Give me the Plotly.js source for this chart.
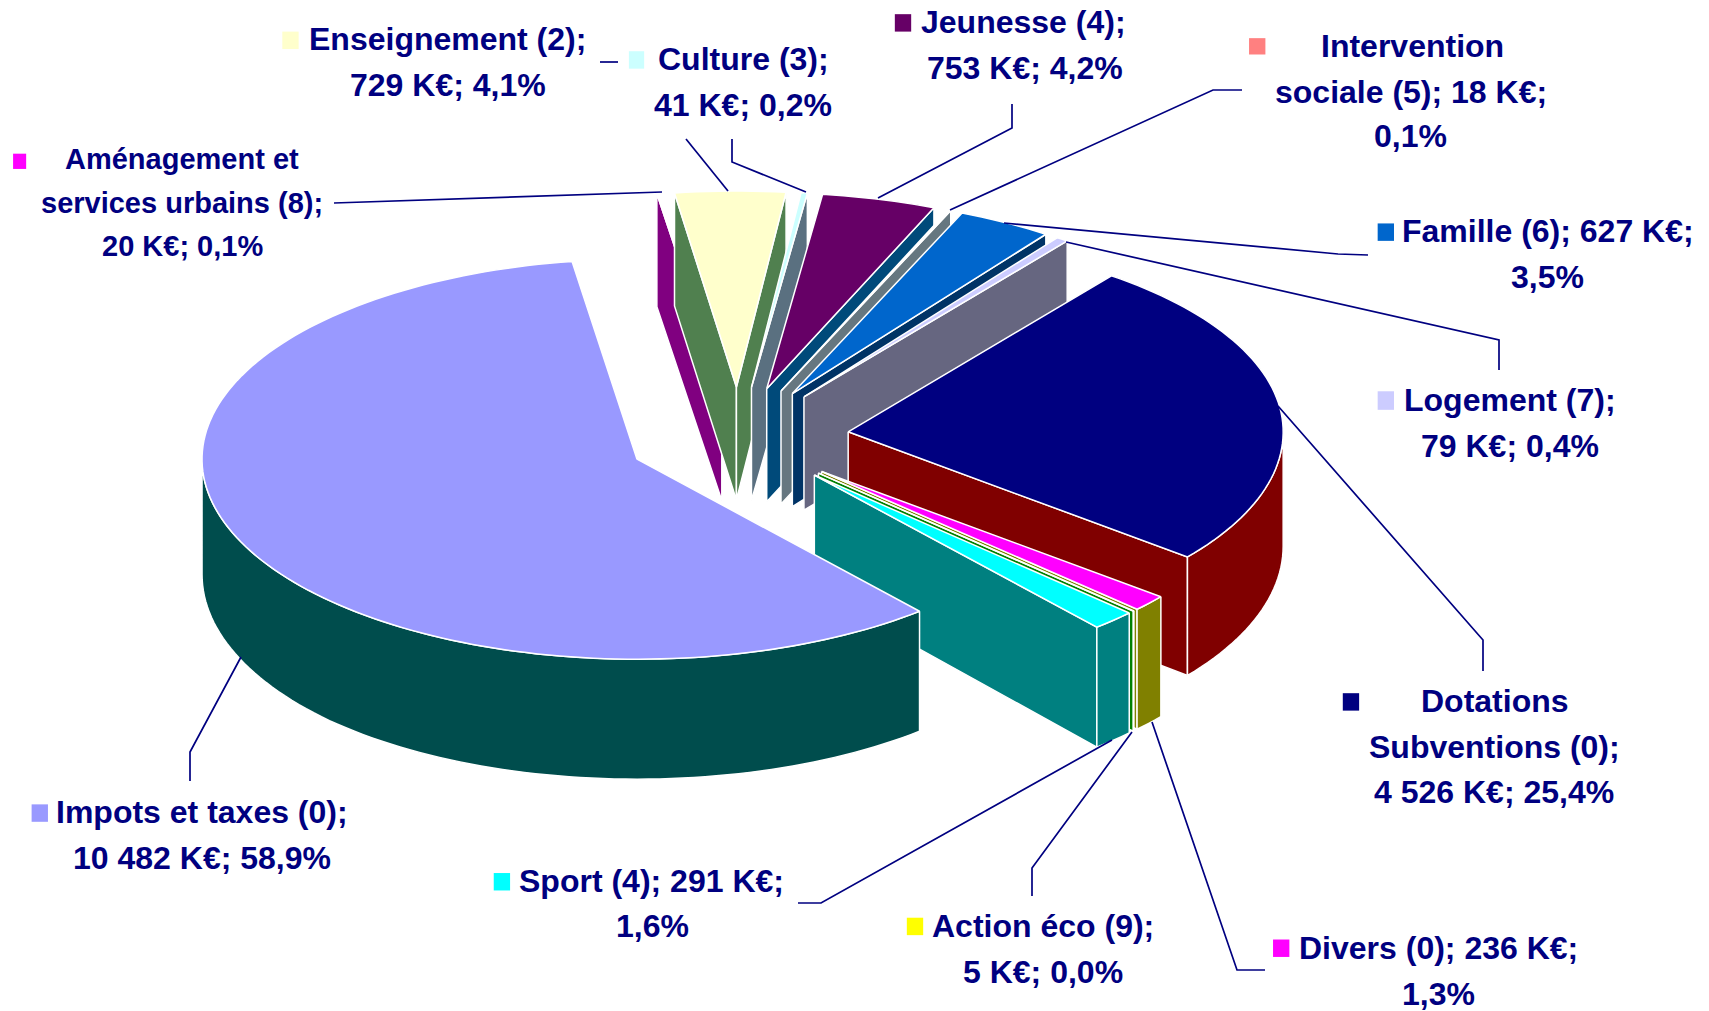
<!DOCTYPE html>
<html><head><meta charset="utf-8">
<script src="https://cdn.plot.ly/plotly-3.0.1.min.js"></script>
<style>html,body{margin:0;padding:0;background:#fff;overflow:hidden}</style>
</head><body><div id="chart" style="width:1709px;height:1011px"></div>
<script>
// Data, clockwise from the start of "Impots et taxes"
const categories = ["Impots et taxes","Aménagement et services urbains","Enseignement","Culture","Jeunesse","Intervention sociale","Famille","Logement","Dotations Subventions","Divers","Action éco","Sport"];
const valuesKE   = [10482,20,729,41,753,18,627,79,4526,236,5,291];
const topColors  = ["#9999FF","#FFFFFF","#FFFFCC","#CCFFFF","#660066","#FFFFFF","#0066CC","#CCCCFF","#000080","#FF00FF","#FFFF00","#00FFFF"];
const sideColors = ["#004D4D","#800080","#50804F","#5A7080","#004A7A","#667780","#003366","#666680","#800000","#808000","#008000","#008080"];
const drawOrder  = [1,2,3,4,5,6,7,8,9,10,11,0];

// Pie projection
const startDeg=139.5, cx=738, cy=438, rx=435, ryFront=200, ryBack=196, explodeX=111, explodeY=51;
const depth = y => 113 + 7*Math.min(1,Math.max(0,(y-390)/210));

// Label text lines (one row per line)
const labelLines = ["Enseignement (2);","729 K€; 4,1%","Culture (3);","41 K€; 0,2%","Jeunesse (4);","753 K€; 4,2%","Intervention","sociale (5); 18 K€;","0,1%","Famille (6); 627 K€;","3,5%","Logement (7);","79 K€; 0,4%","Dotations","Subventions (0);","4 526 K€; 25,4%","Divers (0); 236 K€;","1,3%","Action éco (9);","5 K€; 0,0%","Sport (4); 291 K€;","1,6%","Impots et taxes (0);","10 482 K€; 58,9%","Aménagement et","services urbains (8);","20 K€; 0,1%"];
const labelX = [411,411,682,682,939,940,1296,1295,1294,1420,1420,1385,1385,1372,1371,1371,1320,1320,957,957,598,599,185,185,167,167,167];
const labelY = [36,78,54,96,20,62,42,84,125,212,254,367,409,643,685,727,870,912,850,892,808,850,745,787,146,186,226];
const labelSize = [32,32,32,32,32,32,32,32,32,32,32,32,32,32,32,32,32,32,32,32,32,32,32,32,29,29,29];

// Legend keys
const keyX0=[259,577,821,1146,1264,1264,1232,1168,832,453,29,12];
const keyX1=[274,591,836,1161,1279,1279,1247,1183,847,468,44,24];
const keyY0=[29,47,13,35,205,359,636,862,842,801,738,141];
const keyY1=[45,63,29,50,221,376,652,878,858,817,754,155];
const keyColors=["#FFFFCC","#CCFFFF","#660066","#FF8080","#0066CC","#CCCCFF","#000080","#FF00FF","#FFFF00","#00FFFF","#9999FF","#FF00FF"];
const S=1709/1568;

// Leader lines, pixel paths
const leaders=[
 [[334,203],[662,192]],
 [[600,62],[618,62]],
 [[686,139],[728,191]],
 [[732,139],[732,162],[806,192]],
 [[1012,104],[1012,128],[878,198]],
 [[1242,90],[1213,90],[950,210]],
 [[1368,255],[1338,254],[1004,223]],
 [[1499,370],[1499,340],[1066,242]],
 [[1483,671],[1483,640],[1278,406]],
 [[1265,970],[1237,970],[1152,722]],
 [[1032,896],[1032,868],[1132,732]],
 [[798,903],[821,903],[1112,740]],
 [[190,781],[190,752],[241,657]]
];

const total=valuesKE.reduce((a,b)=>a+b,0);
const rad=d=>d*Math.PI/180;
let acc=startDeg;
const slices=valuesKE.map(v=>{const a0=acc;acc+=v/total*360;return a0>=360?[a0-360,acc-360]:[a0,acc];});

const traces=[];
function poly(pts,fill){
  const x=pts.map(p=>p[0]).concat(pts[0][0]);
  const y=pts.map(p=>p[1]).concat(pts[0][1]);
  traces.push({type:'scatter',mode:'lines',x,y,fill:'toself',fillcolor:fill,
    line:{color:'#FFFFFF',width:1.5,simplify:false},hoverinfo:'skip',showlegend:false});
}
drawOrder.forEach(i=>{
  const [a0,a1]=slices[i], mid=rad((a0+a1)/2);
  const ax=cx+explodeX*Math.sin(mid), ay=cy-explodeY*Math.cos(mid);
  const back=i===0?ryFront:ryBack;
  const edge=a=>{const c=Math.cos(rad(a));return [ax+rx*Math.sin(rad(a)), ay-(c>0?back:ryFront)*c];};
  const down=p=>[p[0],p[1]+depth(p[1])];
  const arc=(s,e)=>{const n=Math.max(2,Math.ceil((e-s)/1.5));const o=[];for(let k=0;k<=n;k++)o.push(edge(s+(e-s)*k/n));return o;};
  const face=a=>{const p=edge(a);poly([[ax,ay],p,down(p),down([ax,ay])],sideColors[i]);};
  if(Math.sin(rad(a0))<0) face(a0);
  if(Math.sin(rad(a1))>0) face(a1);
  const ws=Math.max(a0,90), we=Math.min(a1,270);
  if(we>ws){const t=arc(ws,we);poly(t.concat(t.map(p=>down(p)).reverse()),sideColors[i]);}
  poly([[ax,ay]].concat(arc(a0,a1)),topColors[i]);
});

const shapes=leaders.map(l=>({type:'path',xref:'x',yref:'y',
  path:'M'+l.map(p=>p[0]+' '+p[1]).join(' L'),line:{color:'#000080',width:1.7}}));
keyColors.forEach((c,i)=>shapes.push({type:'rect',xref:'x',yref:'y',layer:'above',
  x0:keyX0[i]*S,x1:keyX1[i]*S,y0:keyY0[i]*S,y1:keyY1[i]*S,fillcolor:c,line:{width:0}}));

const annotations=labelLines.map((t,i)=>({text:'<b>'+t+'</b>',x:labelX[i]*S,y:labelY[i]*S,xref:'x',yref:'y',
  xanchor:'center',yanchor:'middle',showarrow:false,
  font:{family:'"Liberation Sans",Arial,sans-serif',size:labelSize[i],color:'#000080'}}));

Plotly.newPlot('chart',traces,{
  width:1709,height:1011,margin:{l:0,r:0,t:0,b:0},
  paper_bgcolor:'#fff',plot_bgcolor:'#fff',showlegend:false,hovermode:false,
  xaxis:{range:[0,1709],visible:false,fixedrange:true},
  yaxis:{range:[1011,0],visible:false,fixedrange:true},
  shapes,annotations
},{staticPlot:true,displayModeBar:false});
</script></body></html>
